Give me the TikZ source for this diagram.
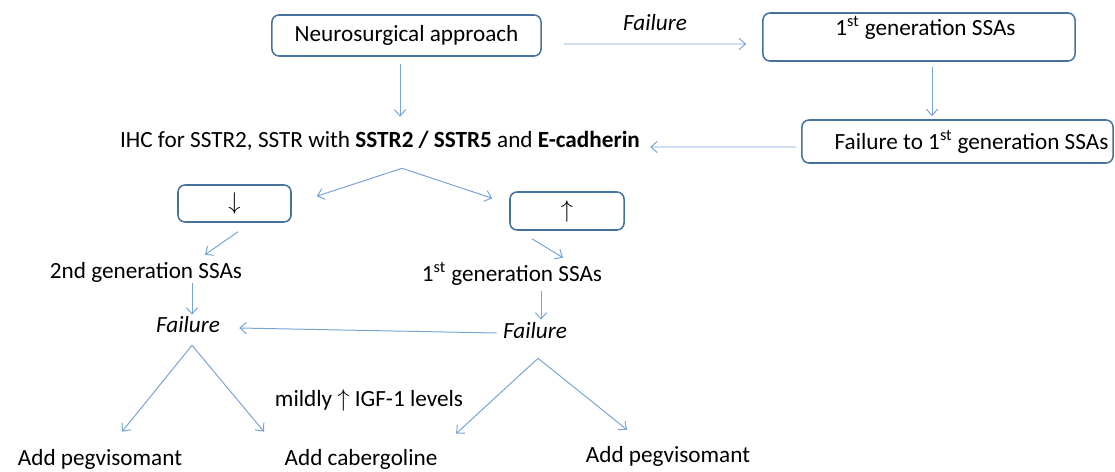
\documentclass[tikz,border=0pt]{standalone}
\usepackage{fontspec}
\setmainfont{Carlito}
\usetikzlibrary{arrows.meta,calc}
\definecolor{linkblue}{RGB}{120,163,214}
\definecolor{boxblue}{RGB}{70,114,158}
\tikzset{
  stepbox/.style={draw=boxblue, line width=1.1pt, rounded corners=5pt, inner sep=0pt},
  txt/.style={inner sep=0pt, text height=12pt, text depth=4pt},
  flow/.style={draw=linkblue, line width=0.7pt, -{Straight Barb[length=4.5pt,width=8pt]}}
}
\newcommand{\sts}{\textsuperscript{st}}

\begin{document}
\begin{tikzpicture}[x=0.025cm, y=-0.025cm, font=\fontsize{16.5}{20}\selectfont]
  \useasboundingbox (0,0) rectangle (1115,472);
  % boxes
  \node[stepbox, minimum width=6.725cm, minimum height=1.025cm] (neuro) at (406.5,35.5) {Neurosurgical approach};
  \node[stepbox, minimum width=7.8cm, text height=0.5625cm, text depth=0.6375cm] (gen1) at (919,37) {\hspace{0.325cm}1\sts{} generation SSAs};
  \node[stepbox, minimum width=7.775cm, minimum height=1.075cm] (fail1) at (957.5,141.5) {\hspace{0.7cm}Failure to 1\sts{} generation SSAs};
  \node[stepbox, minimum width=2.825cm, minimum height=0.925cm] (down) at (234.5,203.5) {$\downarrow$};
  \node[stepbox, minimum width=2.85cm, minimum height=0.95cm] (up) at (567,211) {$\uparrow$};
  % texts
  \node[txt] (ihc) at (380,142) {IHC for SSTR2, SSTR with \textbf{SSTR2 / SSTR5} and \textbf{E-cadherin}};
  \node[txt] (gen2nd) at (146,273) {2nd generation\ SSAs};
  \node[txt] (gen1st) at (512,276) {1\sts{} generation SSAs};
  \node[txt] (failL) at (188,327) {\itshape Failure};
  \node[txt] (failR) at (535,333) {\itshape Failure};
  \node[txt] (mildly) at (369,401) {mildly $\uparrow$ IGF-1 levels};
  \node[txt] (pegL) at (100,460) {Add pegvisomant};
  \node[txt] (cab) at (361,460) {Add cabergoline};
  \node[txt] (pegR) at (668,457) {Add pegvisomant};
  \coordinate (fork) at ($(ihc.south)+(22,14.75)$);

  % arrows
  \draw[flow] ($(neuro.east)+(22,8.5)$) -- node[txt, above=5pt] {\itshape Failure} ($(gen1.west)+(-16,7)$);
  \draw[flow] ($(gen1.south)+(13,5)$) -- ($(fail1.north)+(-25.5,-3)$);
  \draw[flow] ($(fail1.west)+(-5,5.5)$) -- ($(ihc.east)+(10,5)$);
  \draw[flow] ($(neuro.south)+(-6.5,7)$) -- ($(ihc.north)+(20,-13.75)$);
  \draw[flow] (fork) -- ($(down.north east)+(25,12)$);
  \draw[flow] (fork) -- ($(up.north west)+(-17,7)$);
  \draw[flow] ($(down.south)+(3.5,9)$) -- ($(gen2nd.north)+(59,-6.75)$);
  \draw[flow] ($(up.south)+(-35,8)$) -- ($(gen1st.north)+(51,-6.75)$);
  \draw[flow] ($(gen2nd.south)+(46,-1.25)$) -- ($(failL.north)+(4,-0.75)$);
  \draw[flow] ($(gen1st.south)+(29,3.75)$) -- ($(failR.north)+(6,-1.75)$);
  \draw[flow] ($(failR.west)+(-6,0)$) -- ($(failL.east)+(19,1)$);
  \draw[flow] ($(failL.south)+(4,6.75)$) -- ($(pegL.north)+(22,-16.75)$);
  \draw[flow] ($(failL.south)+(4,6.75)$) -- ($(cab.north)+(-97,-16.75)$);
  \draw[flow] ($(failR.south)+(3,13.75)$) -- ($(cab.north)+(95,-14.75)$);
  \draw[flow] ($(failR.south)+(3,13.75)$) -- ($(pegR.north)+(-41,-15.75)$);
\end{tikzpicture}
\end{document}
